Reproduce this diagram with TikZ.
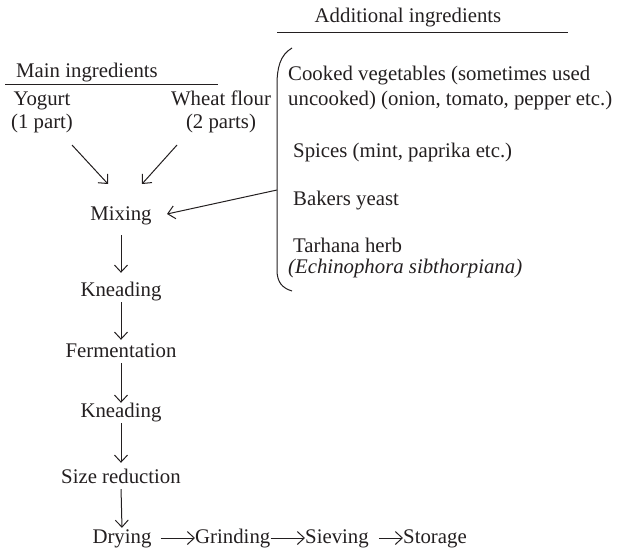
\documentclass[tikz,border=0pt]{standalone}
\usepackage{fontspec}
\setmainfont{Liberation Serif}
\usetikzlibrary{arrows.meta}
\definecolor{ink}{RGB}{35,31,32}
\begin{document}
\begin{tikzpicture}[x=1pt,y=-1pt,
  txt/.style={inner sep=0pt, text height=14pt, text depth=4pt, font=\fontsize{20.8}{24}\selectfont, text=ink},
  rule/.style={draw=ink, line width=1pt},
  arr/.style={draw=ink, line width=1pt, -{Straight Barb[length=7pt,width=13pt]}}]
\useasboundingbox (0,0) rectangle (624,554);
% headings
\node[txt] (addl) at (408,17) {Additional ingredients};
\draw[rule] (277,32) -- (568,32);
\node[txt] (main) at (87,72) {Main ingredients};
\draw[rule] (5,84) -- (218,84);
% main ingredients
\node[txt] (yog) at (42,100) {Yogurt};
\node[txt] (p1) at (42,123) {(1 part)};
\node[txt] (wheat) at (221,100) {Wheat flour};
\node[txt] (p2) at (221,123) {(2 parts)};
% column
\node[txt] (mix) at (121,215) {Mixing};
\node[txt] (kn1) at (121,291) {Kneading};
\node[txt] (ferm) at (121,352) {Fermentation};
\node[txt] (kn2) at (121,412) {Kneading};
\node[txt] (size) at (121,478) {Size reduction};
\node[txt] (dry) at (122,538) {Drying};
\node[txt,anchor=west] (grind) at (195,538) {Grinding};
\node[txt,anchor=west] (sieve) at (305,538) {Sieving};
\node[txt,anchor=west] (store) at (403,538) {Storage};
% additional ingredients
\node[txt,anchor=west] (cook1) at (288,75) {Cooked vegetables (sometimes used};
\node[txt,anchor=west] (cook2) at (288,100) {uncooked) (onion, tomato, pepper etc.)};
\node[txt,anchor=west] (spice) at (293,152) {Spices (mint, paprika etc.)};
\node[txt,anchor=west] (yeast) at (293,200) {Bakers yeast};
\node[txt,anchor=west] (herb) at (293,247) {Tarhana herb};
\node[txt,anchor=west] (echi) at (288,268) {\itshape (Echinophora sibthorpiana)};
% bracket
\draw[rule] (292,48) .. controls (280,55) and (277,68) .. (277,85) -- (277,270) .. controls (277,282) and (282,288) .. (292,291);
% connector endpoints
\coordinate (a1s) at (72,145);
\coordinate (a1e) at (108,184);
\coordinate (a2s) at (177,145);
\coordinate (a2e) at (142,184);
\coordinate (bk) at (277,190);
\coordinate (bke) at (167,214);
\draw[arr] (a1s) -- (a1e);
\draw[arr] (a2s) -- (a2e);
\draw[arr] (bk) -- (bke);
\draw[arr, shorten <=11pt, shorten >=9pt] (mix.south) -- (kn1.north);
\draw[arr, shorten <=2pt, shorten >=3pt] (kn1.south) -- (ferm.north);
\draw[arr, shorten <=2pt] (ferm.south) -- (kn2.north);
\draw[arr, shorten <=2pt, shorten >=6pt] (kn2.south) -- (size.north);
\draw[arr, shorten <=2pt, shorten >=1pt] (size.south) -- (dry.north);
\draw[arr, shorten <=9pt] (dry.east) -- (grind.west);
\draw[arr] (grind.east) -- (sieve.west);
\draw[arr, shorten <=10pt] (sieve.east) -- (store.west);
\end{tikzpicture}
\end{document}
